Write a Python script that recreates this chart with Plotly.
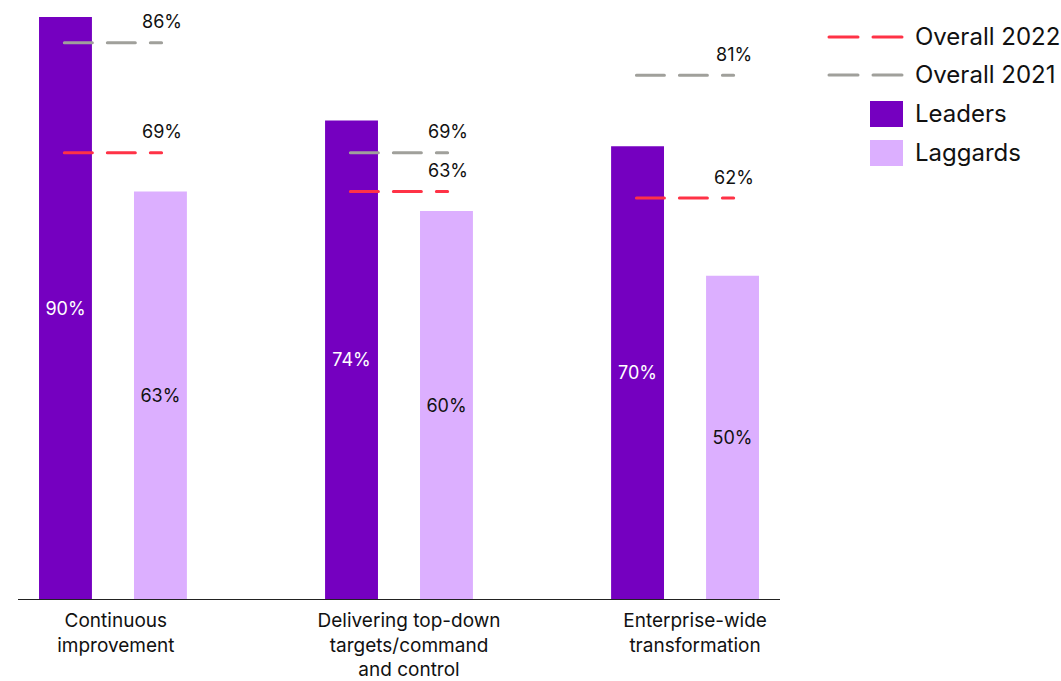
import plotly.graph_objects as go

# Survey data: share of respondents per approach
categories = [
    "Continuous<br>improvement",
    "Delivering top-down<br>targets/command<br>and control",
    "Enterprise-wide<br>transformation",
]
leaders = [90, 74, 70]
laggards = [63, 60, 50]
overall_2022 = [69, 63, 62]
overall_2021 = [86, 69, 81]

legend_labels = ["Overall 2022", "Overall 2021", "Leaders", "Laggards"]

# Palette
C_LEADERS = "#7500C0"
C_LAGGARDS = "#DCAFFF"
C_2022 = "#FF3246"
C_2021 = "#A0A09B"
C_TEXT = "#111111"
FONT = "Inter"

# Plot-area geometry (pixels)
W, H = 1061, 681
L, R, T, B = 18, 780, 17, 599

BAR_W = 0.185
BAR_SHIFT = 0.166
LINE_HALF = 0.17

xs = list(range(len(categories)))
# category labels sit slightly right of the group centres
tick_pos = [0.01, 1.035, 2.035]

fig = go.Figure()

fig.add_trace(go.Bar(
    x=xs, y=leaders, width=BAR_W, offset=-BAR_SHIFT - BAR_W / 2,
    marker=dict(color=C_LEADERS, line=dict(width=0)),
    text=[f"{v}%" for v in leaders], textposition="inside",
    insidetextanchor="middle", textangle=0,
    textfont=dict(color="white", size=18, family=FONT),
    name=legend_labels[2], showlegend=False, hoverinfo="skip",
))
fig.add_trace(go.Bar(
    x=xs, y=laggards, width=BAR_W, offset=BAR_SHIFT - BAR_W / 2,
    marker=dict(color=C_LAGGARDS, line=dict(width=0)),
    text=[f"{v}%" for v in laggards], textposition="inside",
    insidetextanchor="middle", textangle=0,
    textfont=dict(color=C_TEXT, size=18, family=FONT),
    name=legend_labels[3], showlegend=False, hoverinfo="skip",
))

# Dashed reference lines for the overall averages, each labelled at its right end
for series, color in ((overall_2021, C_2021), (overall_2022, C_2022)):
    for i, v in zip(xs, series):
        fig.add_trace(go.Scatter(
            x=[i - LINE_HALF, i + LINE_HALF], y=[v, v], mode="lines",
            line=dict(color=color, width=3, dash="28px,15px"),
            showlegend=False, hoverinfo="skip",
        ))
        fig.add_annotation(
            x=i + LINE_HALF, y=v, xref="x", yref="y", text=f"{v}%",
            showarrow=False, yshift=21, xanchor="center", yanchor="middle",
            font=dict(size=18, color=C_TEXT, family=FONT),
        )


# Legend drawn in paper space (pixel positions converted to paper units)
def px_x(p):
    return (p - L) / (R - L)


def px_y(p):
    return (B - p) / (B - T)


legend_rows = [37, 75, 114, 153]
for label, yc in zip(legend_labels, legend_rows):
    if label.startswith("Overall"):
        color = C_2022 if label.endswith("2022") else C_2021
        fig.add_shape(
            type="line", xref="paper", yref="paper",
            x0=px_x(829), x1=px_x(902), y0=px_y(yc), y1=px_y(yc),
            line=dict(color=color, width=3, dash="29px,15px"),
        )
    else:
        color = C_LEADERS if label == "Leaders" else C_LAGGARDS
        fig.add_shape(
            type="rect", xref="paper", yref="paper",
            x0=px_x(870), x1=px_x(903), y0=px_y(yc - 13), y1=px_y(yc + 13),
            fillcolor=color, line=dict(width=0),
        )
    fig.add_annotation(
        x=px_x(913), y=px_y(yc), xref="paper", yref="paper", text=label,
        showarrow=False, xanchor="left", yanchor="middle",
        font=dict(size=24, color=C_TEXT, family=FONT),
    )

fig.update_layout(
    width=W, height=H,
    margin=dict(l=L, r=W - R, t=T, b=H - B, pad=0, autoexpand=False),
    paper_bgcolor="white", plot_bgcolor="white",
    barmode="overlay", showlegend=False,
    font=dict(family=FONT, color=C_TEXT),
    xaxis=dict(
        range=[-0.332, 2.332], tickvals=tick_pos, ticktext=categories,
        showgrid=False, zeroline=False, showline=True,
        linecolor="#222222", linewidth=1, ticks="", automargin=False,
        ticklabelstandoff=4,
        tickfont=dict(size=19, color=C_TEXT, family=FONT), fixedrange=True,
    ),
    yaxis=dict(
        range=[0, 90], visible=False, showgrid=False, zeroline=False,
        fixedrange=True, automargin=False,
    ),
)

round_caps = """
var gd = document.getElementById('{plot_id}');
gd.querySelectorAll('.scatterlayer path.js-line, .shapelayer path').forEach(function (p) {
  p.style.strokeLinecap = 'round';
});
"""

fig.write_html("out.html", post_script=round_caps, config={"displayModeBar": False})
